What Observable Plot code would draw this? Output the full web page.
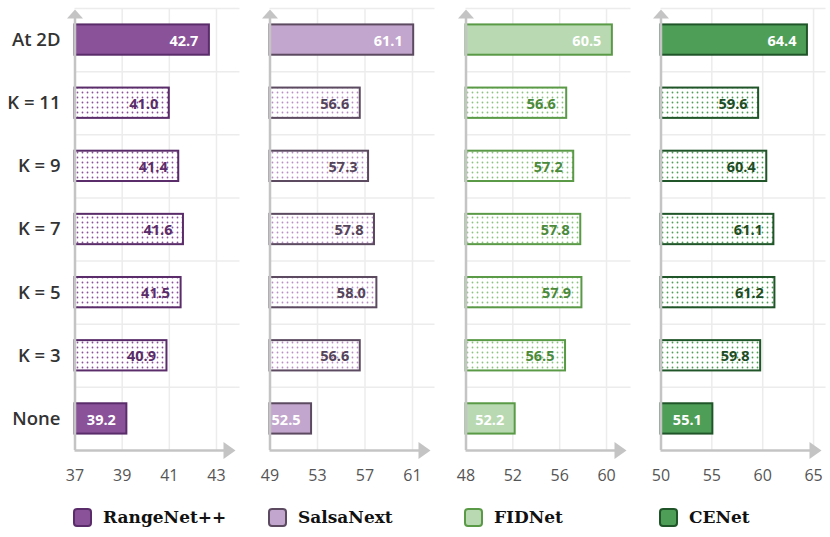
<!DOCTYPE html>
<html><head><meta charset="utf-8">
<script src="https://cdn.jsdelivr.net/npm/d3@7"></script>
<script src="https://cdn.jsdelivr.net/npm/@observablehq/plot@0.6"></script>
<style>
body{margin:0;background:#fff;}
#chart{position:relative;width:830px;height:537px;overflow:hidden;}
#chart svg{position:absolute;top:0;}
.legend{position:absolute;top:508px;display:flex;align-items:center;font-family:"DejaVu Serif",serif;font-weight:bold;font-size:17px;color:#111;line-height:19px;}
.sw{width:19px;height:19px;border-radius:4px;border:2px solid;box-sizing:border-box;margin-right:11px;}
</style></head><body><div id="chart"></div>
<script>
const categories = ["At 2D","K = 11","K = 9","K = 7","K = 5","K = 3","None"];
const solidCategories = ["At 2D","None"];
const models = ["RangeNet++","SalsaNext","FIDNet","CENet"];
const rangenetValues = [42.7,41.0,41.4,41.6,41.5,40.9,39.2];
const salsanextValues = [61.1,56.6,57.3,57.8,58.0,56.6,52.5];
const fidnetValues = [60.5,56.6,57.2,57.8,57.9,56.5,52.2];
const cenetValues = [64.4,59.6,60.4,61.1,61.2,59.8,55.1];
const rangenetTicks = [37,39,41,43];
const salsanextTicks = [49,53,57,61];
const fidnetTicks = [48,52,56,60];
const cenetTicks = [50,55,60,65];

const panels = [
  {name:models[0], values:rangenetValues, ticks:rangenetTicks, axisX:74.5, k:23.58, left:0, width:250,
   fill:"#8a5299", stroke:"#5a2d6a", dot:"#8a5299", label:"#5a2d6a"},
  {name:models[1], values:salsanextValues, ticks:salsanextTicks, axisX:269.5, k:11.875, left:250, width:195,
   fill:"#c3a6cd", stroke:"#5c4a61", dot:"#b98fc6", label:"#54445a"},
  {name:models[2], values:fidnetValues, ticks:fidnetTicks, axisX:465.5, k:11.71, left:445, width:195,
   fill:"#b8d9b1", stroke:"#5a9a47", dot:"#8cc47f", label:"#4b8a3a"},
  {name:models[3], values:cenetValues, ticks:cenetTicks, axisX:660.5, k:10.17, left:640, width:190,
   fill:"#4f9e58", stroke:"#1f5528", dot:"#4f9e58", label:"#1e4d24"}
];

const axisColor = "#c4c4c4", gridColor = "#ececec";
const arrowUp = {draw(ctx){ctx.moveTo(0,-4.5);ctx.lineTo(8,4.5);ctx.lineTo(-8,4.5);ctx.closePath();}};
const arrowRight = {draw(ctx){ctx.moveTo(6,0);ctx.lineTo(-6,8.5);ctx.lineTo(-6,-8.5);ctx.closePath();}};

const chart = document.getElementById("chart");

panels.forEach((p, pi) => {
  const d0 = p.ticks[0];
  const at = off => d0 + off / p.k;
  const rows = categories.map((c, i) => ({cat:c, i, value:p.values[i], solid:solidCategories.includes(c)}));
  const solid = rows.filter(r => r.solid), dotted = rows.filter(r => !r.solid);
  const x0 = p.axisX - p.left;
  const barY = {y1:d => d.i + 0.26, y2:d => d.i + 0.74};
  const marks = [
    Plot.ruleY(d3.range(0, 7), {x1:d0, x2:at(165), stroke:gridColor, strokeWidth:1.5}),
    Plot.ruleX(p.ticks.slice(1), {y1:0, y2:7, stroke:gridColor, strokeWidth:1.5}),
    Plot.rect(solid, {x1:d0, x2:"value", ...barY, fill:p.fill, stroke:p.stroke, strokeWidth:2}),
    Plot.rect(dotted, {x1:d0, x2:"value", ...barY, fill:`url(#dots${pi})`, stroke:p.stroke, strokeWidth:2}),
    Plot.ruleX([d0], {y1:0.16, y2:7, stroke:axisColor, strokeWidth:2.5}),
    Plot.ruleY([7], {x1:d0, x2:at(150), stroke:axisColor, strokeWidth:2.5}),
    Plot.dot([{x:d0, y:0}], {x:"x", y:"y", dy:5.5, symbol:arrowUp, fill:axisColor}),
    Plot.dot([{x:at(154.5), y:7}], {x:"x", y:"y", symbol:arrowRight, fill:axisColor}),
    Plot.text(solid, {x:"value", y:d => d.i + 0.5, text:d => d.value.toFixed(1), textAnchor:"end", dx:-11, dy:1,
      fill:"white", fontSize:14.5, fontWeight:"bold"}),
    Plot.text(dotted, {x:"value", y:d => d.i + 0.5, text:d => d.value.toFixed(1), textAnchor:"end", dx:-11, dy:1,
      fill:p.label, fontSize:14.5, fontWeight:"bold"}),
    Plot.axisX({ticks:p.ticks, tickSize:0, tickPadding:19, fontSize:16, color:"#555", label:null})
  ];
  if (pi === 0) {
    marks.push(Plot.axisY({ticks:categories.map((_, i) => i + 0.5), tickFormat:d => categories[Math.floor(d)],
      tickSize:0, tickPadding:14.5, fontSize:18.5, fontWeight:600, color:"#333", label:null}));
  }
  const svg = Plot.plot({
    width:p.width, height:500, marginTop:8, marginBottom:50, marginLeft:x0, marginRight:0,
    x:{domain:[d0, at(170)], range:[x0, x0 + 170]},
    y:{domain:[0, 7], range:[8, 450], axis:null},
    style:{background:"transparent", fontFamily:"'Open Sans', sans-serif", overflow:"visible"},
    marks
  });
  svg.style.left = p.left + "px";
  const defs = d3.select(svg).insert("defs", ":first-child");
  const pat = defs.append("pattern").attr("id", `dots${pi}`).attr("patternUnits", "userSpaceOnUse")
    .attr("width", 5).attr("height", 5);
  pat.append("rect").attr("width", 5).attr("height", 5).attr("fill", "white");
  pat.append("circle").attr("cx", 2.5).attr("cy", 2.5).attr("r", 0.9).attr("fill", p.dot);
  chart.appendChild(svg);

  const leg = document.createElement("div");
  leg.className = "legend";
  leg.style.left = (p.axisX - 1.5) + "px";
  leg.innerHTML = `<div class="sw" style="background:${p.fill};border-color:${p.stroke}"></div><span>${p.name}</span>`;
  chart.appendChild(leg);
});
</script></body></html>
